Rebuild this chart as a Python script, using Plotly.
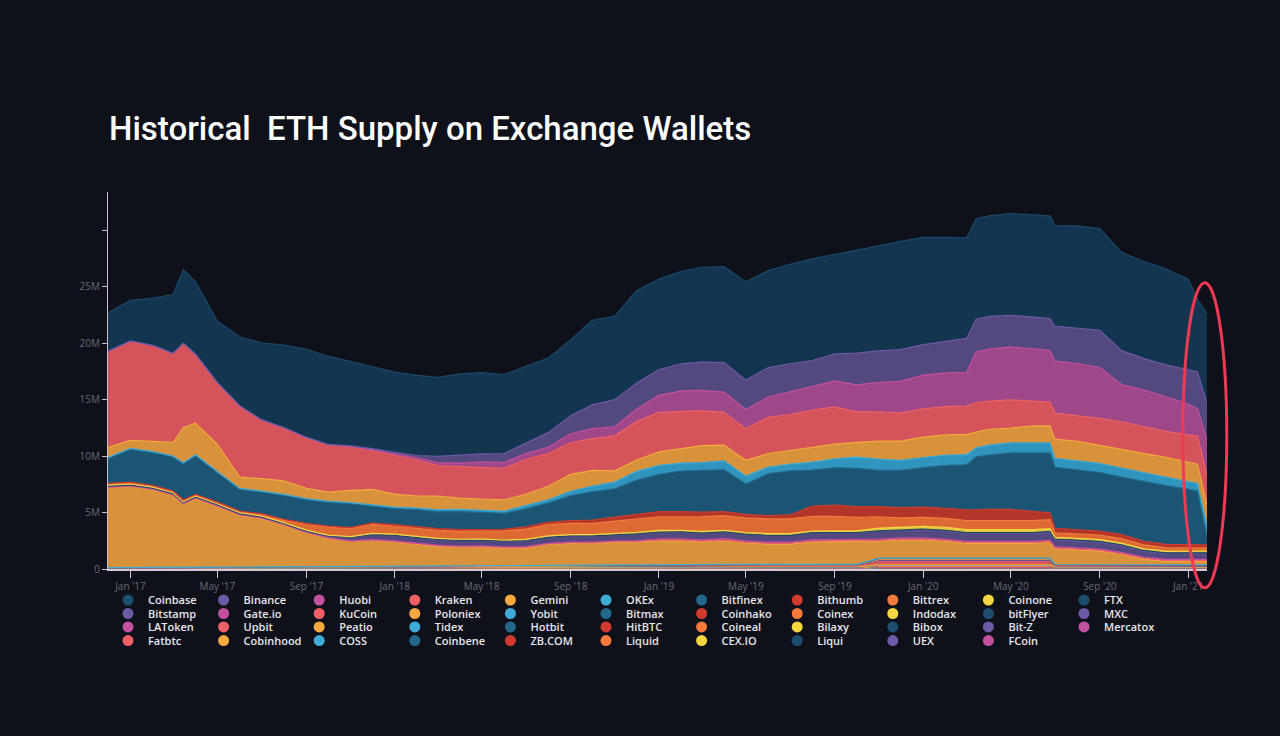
import plotly.graph_objects as go

# ---------------- data (values in millions of ETH) ----------------
DATES = [
    "2016-12-01", "2017-01-01", "2017-02-01", "2017-03-01", "2017-03-15", "2017-04-01",
    "2017-05-01", "2017-06-01", "2017-07-01", "2017-08-01", "2017-09-01", "2017-10-01",
    "2017-11-01", "2017-12-01", "2018-01-01", "2018-02-01", "2018-03-01", "2018-04-01",
    "2018-05-01", "2018-06-01", "2018-07-01", "2018-08-01", "2018-09-01", "2018-10-01",
    "2018-11-01", "2018-12-01", "2019-01-01", "2019-02-01", "2019-03-01", "2019-04-01",
    "2019-05-01", "2019-06-01", "2019-07-01", "2019-08-01", "2019-09-01", "2019-10-01",
    "2019-11-01", "2019-12-01", "2020-01-01", "2020-02-01", "2020-03-01", "2020-03-14",
    "2020-04-01", "2020-05-01", "2020-06-01", "2020-06-24", "2020-07-01", "2020-08-01",
    "2020-09-01", "2020-10-01", "2020-11-01", "2020-12-01", "2021-01-01", "2021-01-14",
    "2021-01-27",
]
SMALL_DATES = ["2016-12-01", "2017-09-01", "2018-06-01", "2019-01-01", "2019-10-01",
               "2019-11-01", "2020-06-24", "2020-07-01", "2021-01-14", "2021-01-27"]

COINBASE = [3.4, 3.6, 4.2, 5.2, 6.5, 6.4, 5.4, 6.1, 6.8, 7.3,
            7.8, 7.8, 7.5, 7.3, 7.1, 7.1, 7.0, 7.2, 7.2, 7.0,
            6.8, 6.6, 6.7, 7.5, 7.4, 8.2, 8.0, 8.2, 8.4, 8.5,
            8.7, 8.6, 8.8, 9.0, 8.8, 9.1, 9.3, 9.6, 9.5, 9.2,
            8.9, 8.9, 8.9, 9.0, 9.1, 9.1, 8.9, 9.1, 9.0, 8.7,
            8.6, 8.5, 8.0, 6.4, 8.0]
BINANCE = [0, 0, 0, 0, 0, 0, 0, 0.02, 0.02, 0.02,
           0.02, 0.02, 0.02, 0.1, 0.15, 0.2, 0.55, 0.7, 0.7, 0.8,
           0.9, 1.3, 1.6, 2.1, 2.4, 2.3, 2.3, 2.4, 2.5, 2.6,
           2.6, 2.6, 2.5, 2.3, 2.4, 2.8, 2.8, 2.8, 2.7, 2.8,
           3.0, 2.9, 2.9, 2.8, 2.8, 2.8, 3.1, 3.1, 3.3, 3.0,
           2.8, 2.8, 3.1, 3.3, 3.2]
HUOBI = [0.01, 0.01, 0.01, 0.01, 0.01, 0.01, 0.01, 0.01, 0.01, 0.01,
         0.01, 0.01, 0.01, 0.1, 0.15, 0.2, 0.25, 0.3, 0.5, 0.5,
         0.5, 0.55, 0.8, 0.9, 0.8, 1.1, 1.5, 1.8, 1.8, 1.8,
         1.7, 1.8, 2.0, 2.1, 2.3, 2.4, 2.6, 2.8, 3.0, 3.0,
         3.0, 4.5, 4.6, 4.7, 4.6, 4.6, 4.6, 4.6, 4.5, 3.3,
         3.2, 3.1, 2.7, 2.4, 3.2]
KRAKEN = [8.5, 8.8, 8.5, 7.9, 7.5, 6.1, 5.5, 6.3, 5.2, 4.7,
          4.5, 4.2, 3.9, 3.4, 3.4, 3.2, 2.7, 2.8, 2.8, 2.8,
          3.1, 2.9, 2.8, 2.8, 3.1, 3.4, 3.5, 3.3, 3.1, 2.9,
          2.8, 3.2, 3.2, 3.3, 3.3, 2.7, 2.6, 2.5, 2.5, 2.5,
          2.5, 2.6, 2.5, 2.5, 2.2, 2.1, 2.3, 2.3, 2.4, 2.4,
          2.4, 2.3, 2.4, 2.5, 2.6]
GEMINI = [0.9, 0.7, 0.9, 1.2, 3.1, 2.8, 2.4, 1.0, 1.1, 1.2,
          0.9, 0.8, 1.1, 1.4, 1.15, 1.05, 1.2, 1.0, 1.0, 1.0,
          1.0, 1.2, 1.5, 1.4, 1.0, 1.0, 1.2, 1.3, 1.5, 1.4,
          1.4, 1.2, 1.2, 1.3, 1.3, 1.3, 1.6, 1.7, 1.8, 1.8,
          1.8, 1.4, 1.4, 1.3, 1.5, 1.5, 1.7, 1.7, 1.6, 1.7,
          1.7, 1.7, 1.7, 1.7, 1.9]
OKEX = [0.1, 0.1, 0.1, 0.1, 0.1, 0.1, 0.1, 0.1, 0.1, 0.1,
        0.1, 0.1, 0.1, 0.1, 0.15, 0.15, 0.2, 0.2, 0.2, 0.2,
        0.3, 0.3, 0.4, 0.5, 0.6, 0.8, 0.8, 0.7, 0.7, 0.8,
        0.7, 0.6, 0.6, 0.7, 0.8, 1.0, 1.0, 0.9, 0.9, 0.9,
        0.9, 0.8, 0.9, 0.9, 0.9, 0.9, 0.8, 0.8, 0.8, 0.8,
        0.8, 0.8, 0.7, 0.7, 0.9]
BITFINEX = [2.2, 2.9, 2.9, 3.0, 3.2, 3.4, 2.6, 1.9, 1.9, 2.1,
            2.1, 2.1, 2.1, 1.5, 1.4, 1.5, 1.5, 1.6, 1.5, 1.4,
            1.6, 1.7, 2.2, 2.5, 2.5, 3.0, 3.3, 3.6, 3.7, 3.7,
            2.7, 3.7, 3.9, 3.2, 3.3, 3.4, 3.2, 3.3, 3.5, 3.8,
            4.0, 4.7, 4.8, 5.0, 5.2, 5.3, 5.4, 5.3, 5.2, 5.1,
            5.3, 5.2, 4.9, 4.7, 0.7]
BITHUMB = [0.05, 0.05, 0.05, 0.05, 0.05, 0.05, 0.05, 0.05, 0.1, 0.1,
           0.1, 0.1, 0.1, 0.1, 0.15, 0.15, 0.15, 0.15, 0.15, 0.15,
           0.2, 0.2, 0.25, 0.3, 0.35, 0.4, 0.45, 0.45, 0.4, 0.35,
           0.3, 0.3, 0.35, 0.9, 1.0, 0.95, 0.9, 0.9, 0.9, 0.9,
           0.95, 0.95, 1.0, 1.0, 0.8, 0.6, 0.4, 0.4, 0.35, 0.35,
           0.3, 0.3, 0.3, 0.3, 0.25]
BITTREX = [0.1, 0.1, 0.1, 0.1, 0.1, 0.1, 0.1, 0.1, 0.1, 0.2,
           0.5, 0.7, 0.7, 0.8, 0.7, 0.7, 0.7, 0.7, 0.7, 0.8,
           0.9, 1.0, 1.0, 1.0, 1.1, 1.2, 1.2, 1.2, 1.3, 1.3,
           1.3, 1.3, 1.3, 1.3, 1.3, 1.2, 1.0, 0.8, 0.8, 0.8,
           0.8, 0.8, 0.8, 0.8, 0.8, 0.8, 0.4, 0.4, 0.4, 0.4,
           0.35, 0.3, 0.3, 0.3, 0.3]
COINONE = [0.08, 0.08, 0.08, 0.08, 0.08, 0.08, 0.08, 0.08, 0.08, 0.08,
           0.08, 0.08, 0.08, 0.1, 0.1, 0.1, 0.1, 0.1, 0.1, 0.1,
           0.1, 0.1, 0.1, 0.1, 0.1, 0.15, 0.15, 0.15, 0.15, 0.15,
           0.15, 0.15, 0.15, 0.15, 0.15, 0.15, 0.25, 0.25, 0.25, 0.25,
           0.25, 0.25, 0.25, 0.25, 0.25, 0.25, 0.15, 0.15, 0.15, 0.15,
           0.15, 0.15, 0.15, 0.15, 0.15]
FTX = [0, 0, 0, 0, 0, 0, 0, 0, 0, 0,
       0, 0, 0, 0, 0, 0, 0, 0, 0, 0,
       0, 0, 0, 0, 0, 0, 0, 0, 0, 0,
       0, 0, 0, 0.03, 0.03, 0.03, 0.03, 0.03, 0.08, 0.08,
       0.08, 0.08, 0.08, 0.08, 0.08, 0.08, 0.08, 0.08, 0.08, 0.08,
       0.08, 0.08, 0.08, 0.08, 0.08]
BITSTAMP = [0.08, 0.08, 0.08, 0.08, 0.08, 0.08, 0.08, 0.08, 0.08, 0.08,
            0.1, 0.15, 0.3, 0.45, 0.5, 0.5, 0.5, 0.5, 0.5, 0.5,
            0.55, 0.55, 0.55, 0.55, 0.55, 0.6, 0.6, 0.6, 0.6, 0.6,
            0.6, 0.6, 0.6, 0.6, 0.6, 0.6, 0.7, 0.7, 0.7, 0.7,
            0.7, 0.7, 0.7, 0.7, 0.7, 0.7, 0.6, 0.6, 0.6, 0.6,
            0.5, 0.5, 0.5, 0.5, 0.5]
GATEIO = [0.03, 0.03, 0.03, 0.03, 0.03, 0.03, 0.03, 0.03, 0.03, 0.03,
          0.03, 0.03, 0.03, 0.03, 0.06, 0.06, 0.06, 0.06, 0.06, 0.06,
          0.06, 0.06, 0.06, 0.06, 0.06, 0.06, 0.1, 0.1, 0.1, 0.1,
          0.1, 0.1, 0.1, 0.1, 0.1, 0.1, 0.1, 0.1, 0.1, 0.1,
          0.1, 0.1, 0.1, 0.1, 0.1, 0.1, 0.1, 0.1, 0.1, 0.1,
          0.1, 0.1, 0.1, 0.1, 0.1]
KUCOIN = [0.02, 0.02, 0.02, 0.02, 0.02, 0.02, 0.02, 0.02, 0.02, 0.02,
          0.02, 0.02, 0.02, 0.02, 0.05, 0.05, 0.05, 0.05, 0.05, 0.05,
          0.05, 0.05, 0.05, 0.05, 0.05, 0.05, 0.08, 0.08, 0.08, 0.08,
          0.08, 0.08, 0.08, 0.08, 0.08, 0.08, 0.08, 0.08, 0.08, 0.08,
          0.08, 0.08, 0.08, 0.08, 0.08, 0.08, 0.08, 0.08, 0.08, 0.08,
          0.08, 0.08, 0.08, 0.08, 0.08]
POLONIEX = [7.1, 7.2, 6.9, 6.4, 5.6, 6.1, 5.4, 4.6, 4.3, 3.7,
            3.0, 2.5, 2.2, 2.3, 2.1, 1.9, 1.7, 1.6, 1.6, 1.5,
            1.5, 1.8, 1.9, 1.9, 2.0, 2.0, 2.1, 2.1, 2.0, 2.1,
            1.9, 1.8, 1.8, 2.0, 2.0, 2.0, 1.5, 1.6, 1.6, 1.5,
            1.3, 1.3, 1.3, 1.3, 1.3, 1.4, 1.4, 1.3, 1.2, 0.9,
            0.5, 0.3, 0.3, 0.3, 0.3]

# small exchanges, read at SMALL_DATES
YOBIT = [0.01, 0.02, 0.02, 0.02, 0.02, 0.03, 0.03, 0.01, 0.01, 0.01]
BITMAX = [0.0, 0.0, 0.0, 0.01, 0.02, 0.03, 0.03, 0.02, 0.02, 0.02]
COINHAKO = [0.0, 0.0, 0.01, 0.01, 0.01, 0.02, 0.02, 0.01, 0.01, 0.01]
COINEX = [0.0, 0.0, 0.02, 0.02, 0.02, 0.04, 0.04, 0.02, 0.02, 0.02]
INDODAX = [0.01, 0.01, 0.01, 0.01, 0.01, 0.03, 0.03, 0.01, 0.01, 0.01]
BITFLYER = [0.01, 0.01, 0.02, 0.02, 0.02, 0.03, 0.03, 0.02, 0.02, 0.02]
MXC = [0.0, 0.0, 0.0, 0.01, 0.02, 0.05, 0.05, 0.03, 0.03, 0.03]
LATOKEN = [0.0, 0.01, 0.01, 0.01, 0.01, 0.03, 0.03, 0.01, 0.01, 0.01]
UPBIT = [0.02, 0.04, 0.06, 0.08, 0.08, 0.35, 0.35, 0.08, 0.07, 0.07]
PEATIO = [0.01, 0.01, 0.01, 0.01, 0.01, 0.02, 0.02, 0.01, 0.01, 0.01]
TIDEX = [0.01, 0.01, 0.01, 0.01, 0.01, 0.01, 0.01, 0.01, 0.01, 0.01]
HOTBIT = [0.0, 0.0, 0.01, 0.01, 0.01, 0.02, 0.02, 0.01, 0.01, 0.01]
HITBTC = [0.02, 0.03, 0.04, 0.04, 0.04, 0.06, 0.06, 0.04, 0.03, 0.03]
COINEAL = [0.0, 0.0, 0.0, 0.01, 0.01, 0.01, 0.01, 0.01, 0.0, 0.0]
BILAXY = [0.0, 0.0, 0.01, 0.01, 0.01, 0.02, 0.02, 0.01, 0.01, 0.01]
BIBOX = [0.0, 0.0, 0.01, 0.01, 0.01, 0.02, 0.02, 0.01, 0.01, 0.01]
BITZ = [0.0, 0.0, 0.01, 0.01, 0.01, 0.03, 0.03, 0.01, 0.01, 0.01]
MERCATOX = [0.0, 0.01, 0.01, 0.01, 0.01, 0.01, 0.01, 0.01, 0.01, 0.01]
FATBTC = [0.0, 0.0, 0.01, 0.01, 0.01, 0.02, 0.02, 0.01, 0.01, 0.01]
COBINHOOD = [0.0, 0.01, 0.01, 0.01, 0.01, 0.01, 0.01, 0.0, 0.0, 0.0]
COSS = [0.0, 0.01, 0.01, 0.01, 0.0, 0.0, 0.0, 0.0, 0.0, 0.0]
COINBENE = [0.0, 0.0, 0.01, 0.01, 0.01, 0.02, 0.02, 0.01, 0.01, 0.01]
ZBCOM = [0.0, 0.01, 0.01, 0.01, 0.01, 0.03, 0.03, 0.01, 0.01, 0.01]
LIQUID = [0.01, 0.01, 0.01, 0.01, 0.01, 0.03, 0.03, 0.02, 0.02, 0.02]
CEXIO = [0.01, 0.01, 0.01, 0.01, 0.01, 0.02, 0.02, 0.01, 0.01, 0.01]
LIQUI = [0.01, 0.01, 0.01, 0.0, 0.0, 0.0, 0.0, 0.0, 0.0, 0.0]
UEX = [0.0, 0.0, 0.01, 0.01, 0.01, 0.02, 0.02, 0.01, 0.01, 0.01]
FCOIN = [0.0, 0.0, 0.01, 0.01, 0.01, 0.01, 0.01, 0.0, 0.0, 0.0]

LEGEND_ROWS = [
    ["Coinbase", "Binance", "Huobi", "Kraken", "Gemini", "OKEx", "Bitfinex", "Bithumb", "Bittrex", "Coinone", "FTX"],
    ["Bitstamp", "Gate.io", "KuCoin", "Poloniex", "Yobit", "Bitmax", "Coinhako", "Coinex", "Indodax", "bitFlyer", "MXC"],
    ["LAToken", "Upbit", "Peatio", "Tidex", "Hotbit", "HitBTC", "Coineal", "Bilaxy", "Bibox", "Bit-Z", "Mercatox"],
    ["Fatbtc", "Cobinhood", "COSS", "Coinbene", "ZB.COM", "Liquid", "CEX.IO", "Liqui", "UEX", "FCoin"],
]

SERIES = {
    "Coinbase": (DATES, COINBASE), "Binance": (DATES, BINANCE), "Huobi": (DATES, HUOBI),
    "Kraken": (DATES, KRAKEN), "Gemini": (DATES, GEMINI), "OKEx": (DATES, OKEX),
    "Bitfinex": (DATES, BITFINEX), "Bithumb": (DATES, BITHUMB), "Bittrex": (DATES, BITTREX),
    "Coinone": (DATES, COINONE), "FTX": (DATES, FTX), "Bitstamp": (DATES, BITSTAMP),
    "Gate.io": (DATES, GATEIO), "KuCoin": (DATES, KUCOIN), "Poloniex": (DATES, POLONIEX),
    "Yobit": (SMALL_DATES, YOBIT), "Bitmax": (SMALL_DATES, BITMAX), "Coinhako": (SMALL_DATES, COINHAKO),
    "Coinex": (SMALL_DATES, COINEX), "Indodax": (SMALL_DATES, INDODAX), "bitFlyer": (SMALL_DATES, BITFLYER),
    "MXC": (SMALL_DATES, MXC), "LAToken": (SMALL_DATES, LATOKEN), "Upbit": (SMALL_DATES, UPBIT),
    "Peatio": (SMALL_DATES, PEATIO), "Tidex": (SMALL_DATES, TIDEX), "Hotbit": (SMALL_DATES, HOTBIT),
    "HitBTC": (SMALL_DATES, HITBTC), "Coineal": (SMALL_DATES, COINEAL), "Bilaxy": (SMALL_DATES, BILAXY),
    "Bibox": (SMALL_DATES, BIBOX), "Bit-Z": (SMALL_DATES, BITZ), "Mercatox": (SMALL_DATES, MERCATOX),
    "Fatbtc": (SMALL_DATES, FATBTC), "Cobinhood": (SMALL_DATES, COBINHOOD), "COSS": (SMALL_DATES, COSS),
    "Coinbene": (SMALL_DATES, COINBENE), "ZB.COM": (SMALL_DATES, ZBCOM), "Liquid": (SMALL_DATES, LIQUID),
    "CEX.IO": (SMALL_DATES, CEXIO), "Liqui": (SMALL_DATES, LIQUI), "UEX": (SMALL_DATES, UEX),
    "FCoin": (SMALL_DATES, FCOIN),
}

Y_TICKS = [0, 5, 10, 15, 20, 25, 30]
Y_LABELS = ["0", "5M", "10M", "15M", "20M", "25M", ""]

# ---------------- style ----------------
LINE_COLORS = ["#1b4868", "#6b5aa6", "#c2519f", "#ef6166", "#f5a93e",
               "#40abd6", "#23678a", "#cf3b2e", "#f47b3d", "#f6d642"]
FILL_COLORS = ["#14354f", "#544880", "#9e4889", "#d5535a", "#d8923b",
               "#2f95be", "#1c5474", "#b2352a", "#dd6a33", "#e3c43b"]
MARKER_COLORS = ["#1d4e70", "#6b5aa6", "#c2519f", "#ef6166", "#f5a93e",
                 "#40abd6", "#23678a", "#cf3b2e", "#f47b3d", "#f6d642"]
BG = "#0f111a"

order = [n for row in LEGEND_ROWS for n in row]

fig = go.Figure()
for name in reversed(order):
    i = order.index(name)
    xs, ys = SERIES[name]
    fig.add_trace(go.Scatter(
        x=xs, y=ys, name=name, stackgroup="eth", stackgaps="interpolate",
        mode="lines", line=dict(color=LINE_COLORS[i % 10], width=1.2),
        fillcolor=FILL_COLORS[i % 10], showlegend=False, legendgroup=name,
        hoverinfo="skip",
    ))

legend_keys = ["legend", "legend2", "legend3", "legend4"]
for r, row in enumerate(LEGEND_ROWS):
    for name in row:
        i = order.index(name)
        fig.add_trace(go.Scatter(
            x=[None], y=[None], mode="markers", name=name, legend=legend_keys[r],
            legendgroup=name, showlegend=True,
            marker=dict(size=11, color=MARKER_COLORS[i % 10]),
        ))

legend_common = dict(
    orientation="h", xanchor="left", yanchor="middle", x=0.0,
    entrywidth=50.6, entrywidthmode="pixels", itemwidth=30,
    font=dict(family="Open Sans", size=11, color="#e6e6ec", weight=600),
    bgcolor="rgba(0,0,0,0)", traceorder="normal",
)

fig.update_layout(
    width=1280, height=736,
    paper_bgcolor=BG, plot_bgcolor=BG,
    margin=dict(l=108, r=73, t=192, b=167),
    title=dict(
        text="Historical\u00a0 ETH Supply on Exchange Wallets",
        x=109 / 1280, xanchor="left", xref="container",
        y=1 - 128 / 736, yanchor="middle", yref="container",
        font=dict(family="Roboto", size=33, color="#ffffff", weight=500),
    ),
    legend=dict(**legend_common, y=-0.0822),
    legend2=dict(**legend_common, y=-0.118),
    legend3=dict(**legend_common, y=-0.1538),
    legend4=dict(**legend_common, y=-0.1897),
    xaxis=dict(
        type="date", range=["2016-12-01", "2021-01-27"],
        tick0="2017-01-01", dtick="M4", tickformat="%b '%y",
        showgrid=False, zeroline=False, showline=True,
        linecolor="#d6c8d8", linewidth=1.5,
        ticks="outside", ticklen=7, tickcolor="#d6c8d8", tickwidth=1,
        tickfont=dict(family="Open Sans", size=10, color="#666a76"),
    ),
    yaxis=dict(
        range=[0, 33.4], tickvals=Y_TICKS, ticktext=Y_LABELS,
        showgrid=False, zeroline=False, showline=True,
        linecolor="#c4bed2", linewidth=1.2,
        ticks="outside", ticklen=5, tickcolor="#c4bed2",
        tickfont=dict(family="Open Sans", size=10, color="#666a76"),
    ),
    showlegend=True,
)

fig.add_shape(
    type="circle", xref="paper", yref="paper",
    x0=0.978, x1=1.018, y0=-0.050, y1=0.759,
    line=dict(color="#ee3a55", width=3), layer="above",
)

fig.write_html("out.html")
